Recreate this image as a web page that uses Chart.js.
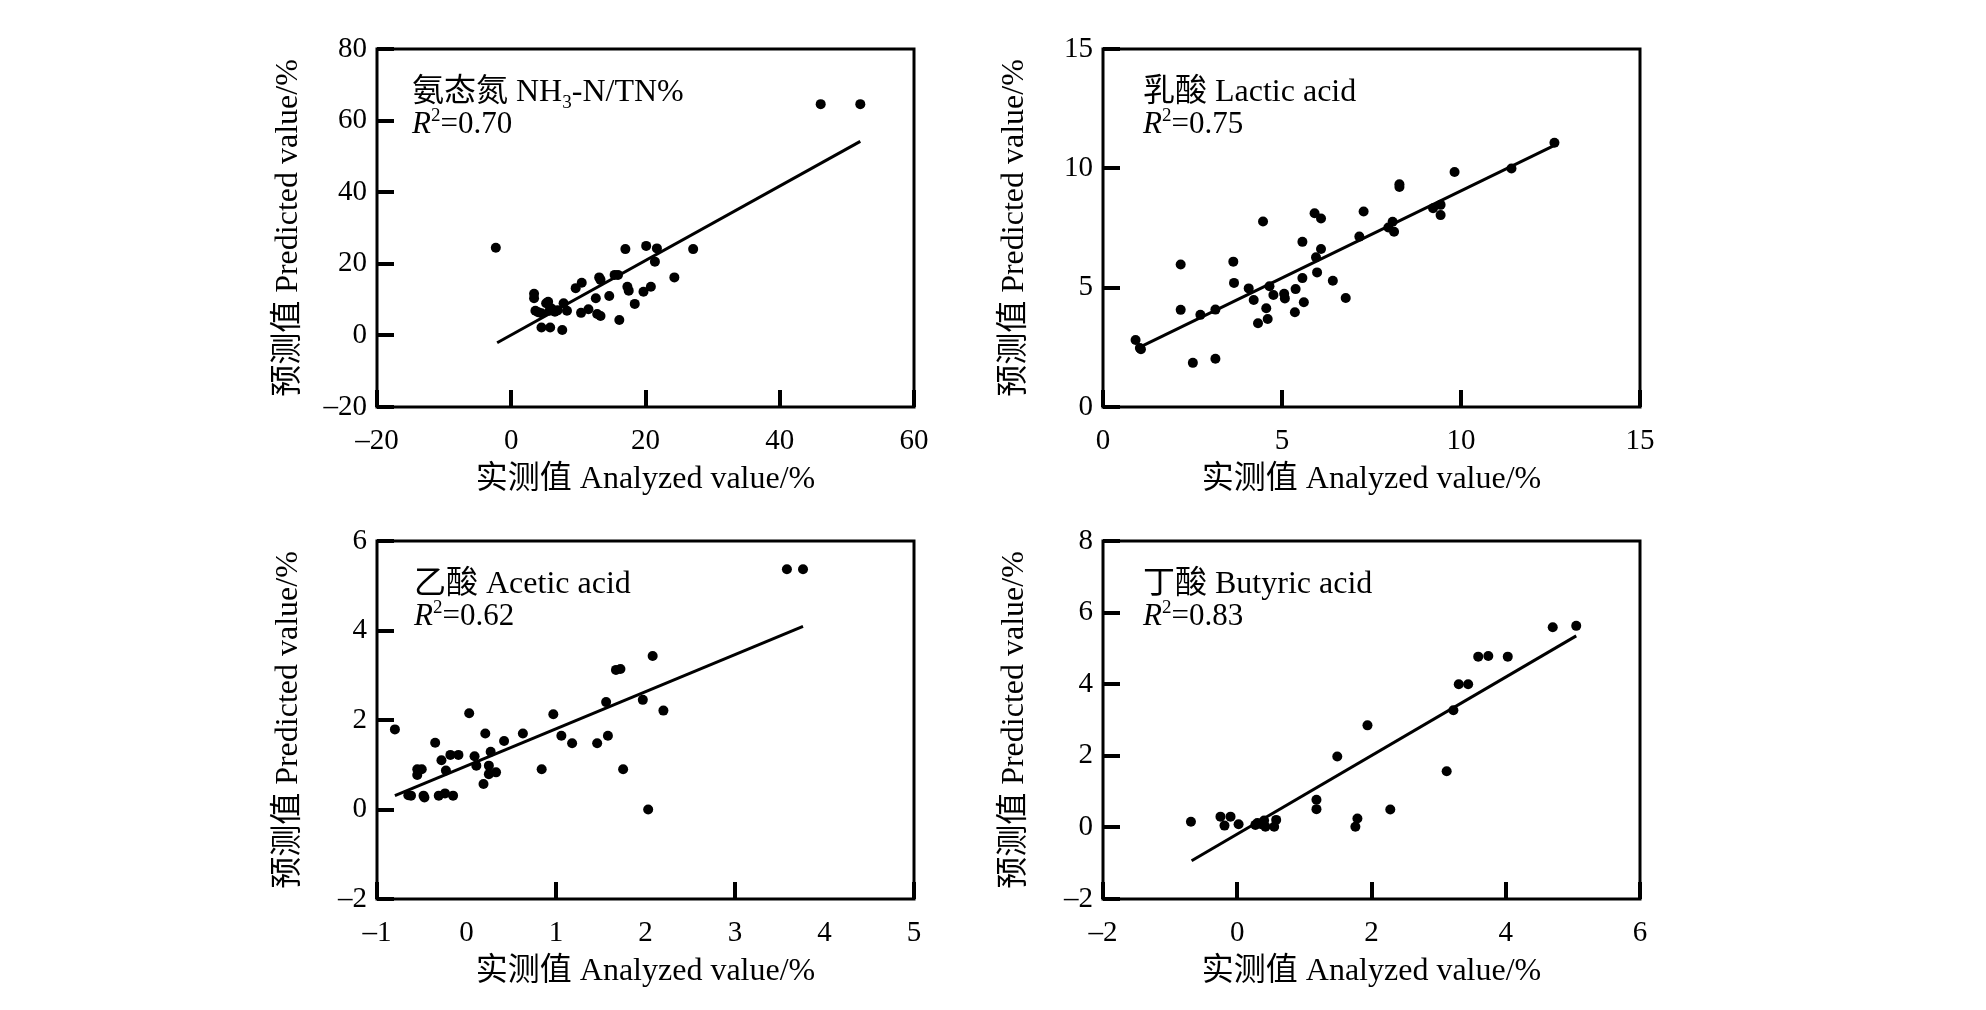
<!DOCTYPE html>
<html>
<head>
<meta charset="utf-8">
<script src="https://cdn.jsdelivr.net/npm/chart.js@4.4.0/dist/chart.umd.min.js"></script>
<style>
  body { margin: 0; background: #fff; width: 1986px; height: 1010px; position: relative; overflow: hidden; }
  canvas { position: absolute; }
</style>
</head>
<body>
<canvas id="c1" width="681" height="480" style="left:260px;top:19px"></canvas>
<canvas id="c2" width="681" height="480" style="left:986px;top:19px"></canvas>
<canvas id="c3" width="681" height="480" style="left:260px;top:511px"></canvas>
<canvas id="c4" width="681" height="480" style="left:986px;top:511px"></canvas>
<script>
// 氨态氮 NH3-N/TN%
const nh3X = [-2.3, 46.1, 52.0, 3.4, 3.4, 3.6, 4.0, 4.5, 5.2, 5.5, 5.7, 6.0, 6.5, 6.9, 4.5, 5.8, 7.6, 7.8, 8.3, 9.6, 10.5, 10.4, 11.5, 12.6, 13.1, 13.3, 12.8, 13.3, 14.6, 15.4, 15.9, 16.1, 17.0, 17.3, 17.5, 18.4, 20.1, 19.7, 20.8, 21.4, 21.7, 24.3, 27.1];
const nh3Y = [24.5, 64.6, 64.6, 11.6, 10.4, 6.9, 6.5, 6.2, 9.0, 9.4, 6.9, 7.5, 6.6, 7.0, 2.2, 2.2, 1.5, 9.0, 6.9, 13.2, 14.7, 6.3, 7.3, 10.4, 16.2, 15.5, 6.0, 5.4, 11.0, 16.9, 16.9, 4.3, 24.1, 13.6, 12.5, 8.8, 25.0, 12.2, 13.6, 20.6, 24.3, 16.2, 24.1];
const nh3FitX = [-2.1, 52.0];
const nh3FitY = [-2.05, 54.2];

// 乳酸 Lactic acid
const lacX = [0.91, 1.03, 1.06, 2.17, 2.17, 2.51, 2.72, 3.14, 3.14, 3.64, 3.66, 4.07, 4.21, 4.33, 4.47, 4.56, 4.60, 4.65, 4.76, 5.06, 5.08, 5.36, 5.38, 5.57, 5.57, 5.61, 5.91, 5.95, 5.98, 6.09, 6.09, 6.42, 6.78, 7.16, 7.28, 7.97, 8.09, 8.13, 8.28, 8.28, 9.22, 9.43, 9.43, 9.82, 11.41, 12.61];
const lacY = [2.81, 2.47, 2.42, 5.97, 4.07, 1.85, 3.86, 4.08, 2.02, 6.09, 5.20, 4.97, 4.48, 3.51, 7.77, 4.14, 3.69, 5.06, 4.69, 4.74, 4.55, 3.97, 4.94, 6.92, 5.40, 4.39, 8.12, 6.27, 5.64, 7.90, 6.62, 5.29, 4.57, 7.14, 8.19, 7.52, 7.76, 7.34, 9.33, 9.22, 8.33, 8.47, 8.04, 9.85, 9.99, 11.07];
const lacFitX = [1.03, 12.61];
const lacFitY = [2.51, 10.96];

// 乙酸 Acetic acid
const aceX = [-0.80, -0.65, -0.62, -0.55, -0.55, -0.50, -0.48, -0.47, -0.35, -0.31, -0.28, -0.24, -0.23, -0.18, -0.15, -0.09, 0.03, 0.09, 0.11, 0.19, 0.21, 0.25, 0.27, 0.25, 0.33, 0.42, 0.63, 0.84, 0.97, 1.06, 1.18, 1.46, 1.58, 1.56, 1.67, 1.72, 1.75, 1.97, 2.03, 2.08, 2.20, 3.58, 3.76];
const aceY = [1.79, 0.32, 0.31, 0.90, 0.77, 0.90, 0.31, 0.27, 1.49, 0.31, 1.10, 0.36, 0.87, 1.22, 0.31, 1.22, 2.15, 1.19, 0.98, 0.57, 1.70, 0.98, 1.29, 0.79, 0.83, 1.53, 1.70, 0.90, 2.13, 1.65, 1.48, 1.48, 1.65, 2.40, 3.12, 3.14, 0.90, 2.45, 0.00, 3.43, 2.21, 5.37, 5.37];
const aceFitX = [-0.80, 3.76];
const aceFitY = [0.31, 4.09];

// 丁酸 Butyric acid
const butX = [-0.69, -0.25, -0.19, -0.10, 0.02, 0.27, 0.30, 0.36, 0.40, 0.42, 0.55, 0.58, 1.18, 1.18, 1.49, 1.76, 1.79, 1.94, 2.28, 3.12, 3.22, 3.30, 3.44, 3.59, 3.74, 4.03, 4.70, 5.05];
const butY = [0.16, 0.30, 0.05, 0.30, 0.09, 0.07, 0.12, 0.09, 0.19, 0.02, 0.02, 0.21, 0.77, 0.51, 1.98, 0.02, 0.25, 2.85, 0.50, 1.57, 3.27, 4.00, 4.00, 4.77, 4.79, 4.77, 5.59, 5.63];
const butFitX = [-0.68, 5.05];
const butFitY = [-0.93, 5.35];

const serif = '"Liberation Serif", "Noto Sans CJK SC", serif';
const xTitle = "实测值 Analyzed value/%";
const yTitle = "预测值 Predicted value/%";

// label text per canvas, kept out of the chart options
const labels = {};

function pts(xs, ys) {
  return xs.map((x, i) => ({ x: x, y: ys[i] }));
}

function fmt(v) {
  return String(v).replace("-", "\u2013");
}

// frame, inward tick marks and the label inside the plot
const framePlugin = {
  id: "frame",
  afterDraw(chart) {
    const a = chart.chartArea;
    const ctx = chart.ctx;
    const lab = labels[chart.canvas.id];
    ctx.save();
    ctx.strokeStyle = "#000";
    ctx.lineWidth = 3;
    ctx.strokeRect(a.left, a.top, a.right - a.left, a.bottom - a.top);

    ctx.fillStyle = "#000";
    const sx = chart.scales.x;
    const sy = chart.scales.y;
    sx.ticks.forEach((t) => {
      if (lab.oddX && Math.abs(Math.round(t.value)) % 2 !== 1) return;
      const px = Math.round(sx.getPixelForValue(t.value));
      ctx.fillRect(px - 2, a.bottom - 17, 4, 17);
    });
    sy.ticks.forEach((t) => {
      const py = Math.round(sy.getPixelForValue(t.value));
      ctx.fillRect(a.left, py - 2, 17, 4);
    });

    let x = a.left + lab.dx;
    const y1 = a.top + 52;
    const y2 = a.top + 84;
    ctx.textBaseline = "alphabetic";
    ctx.font = "32px " + serif;
    ctx.fillText(lab.name, x, y1);
    x += ctx.measureText(lab.name).width;
    if (lab.sub) {
      ctx.font = "19px " + serif;
      ctx.fillText(lab.sub, x, y1 + 7);
      x += ctx.measureText(lab.sub).width;
      ctx.font = "32px " + serif;
      ctx.fillText(lab.rest, x, y1);
    }
    x = a.left + lab.dx;
    ctx.font = "italic 31px " + serif;
    ctx.fillText("R", x, y2);
    x += ctx.measureText("R").width;
    ctx.font = "19px " + serif;
    ctx.fillText("2", x, y2 - 12);
    x += ctx.measureText("2").width;
    ctx.font = "31px " + serif;
    ctx.fillText("=" + lab.r2, x, y2);
    ctx.restore();
  },
};

function makePanel(id, xs, ys, fx, fy, xr, yr, lab) {
  labels[id] = lab;
  const ctx = document.getElementById(id).getContext("2d");
  new Chart(ctx, {
    type: "scatter",
    data: {
      datasets: [
        {
          data: pts(xs, ys),
          pointRadius: 5,
          pointBackgroundColor: "#000",
          pointBorderWidth: 0,
        },
        {
          type: "line",
          data: pts(fx, fy),
          borderColor: "#000",
          borderWidth: 3,
          pointRadius: 0,
          fill: false,
        },
      ],
    },
    options: {
      responsive: false,
      animation: false,
      devicePixelRatio: 1,
      layout: { padding: { top: 30, right: 27, left: 0, bottom: 0 } },
      plugins: {
        legend: { display: false },
        tooltip: { enabled: false },
      },
      scales: {
        x: {
          type: "linear",
          min: xr[0],
          max: xr[1],
          afterFit: (s) => {
            s.height = 92;
            s.paddingLeft = 0;
            s.paddingRight = 0;
          },
          border: { display: false },
          grid: { display: false, drawTicks: false },
          ticks: {
            stepSize: xr[2],
            padding: 17,
            color: "#000",
            font: { family: serif, size: 29 },
            maxRotation: 0,
            callback: (v) => fmt(v),
          },
          title: {
            display: true,
            text: xTitle,
            color: "#000",
            font: { family: serif, size: 32 },
            padding: { top: 0, bottom: 0 },
          },
        },
        y: {
          type: "linear",
          min: yr[0],
          max: yr[1],
          afterFit: (s) => {
            s.width = 117;
            s.paddingTop = 0;
            s.paddingBottom = 0;
          },
          border: { display: false },
          grid: { display: false, drawTicks: false },
          ticks: {
            stepSize: yr[2],
            padding: 10,
            color: "#000",
            font: { family: serif, size: 29 },
            callback: (v) => fmt(v),
          },
          title: {
            display: true,
            text: yTitle,
            color: "#000",
            font: { family: serif, size: 32 },
            padding: { top: 9, bottom: 0 },
          },
        },
      },
    },
    plugins: [framePlugin],
  });
}

makePanel("c1", nh3X, nh3Y, nh3FitX, nh3FitY, [-20, 60, 20], [-20, 80, 20],
  { dx: 35, name: "氨态氮 NH", sub: "3", rest: "-N/TN%", r2: "0.70" });
makePanel("c2", lacX, lacY, lacFitX, lacFitY, [0, 15, 5], [0, 15, 5],
  { dx: 40, name: "乳酸 Lactic acid", r2: "0.75" });
makePanel("c3", aceX, aceY, aceFitX, aceFitY, [-1, 5, 1], [-2, 6, 2],
  { dx: 37, name: "乙酸 Acetic acid", r2: "0.62", oddX: true });
makePanel("c4", butX, butY, butFitX, butFitY, [-2, 6, 2], [-2, 8, 2],
  { dx: 40, name: "丁酸 Butyric acid", r2: "0.83" });
</script>
</body>
</html>
